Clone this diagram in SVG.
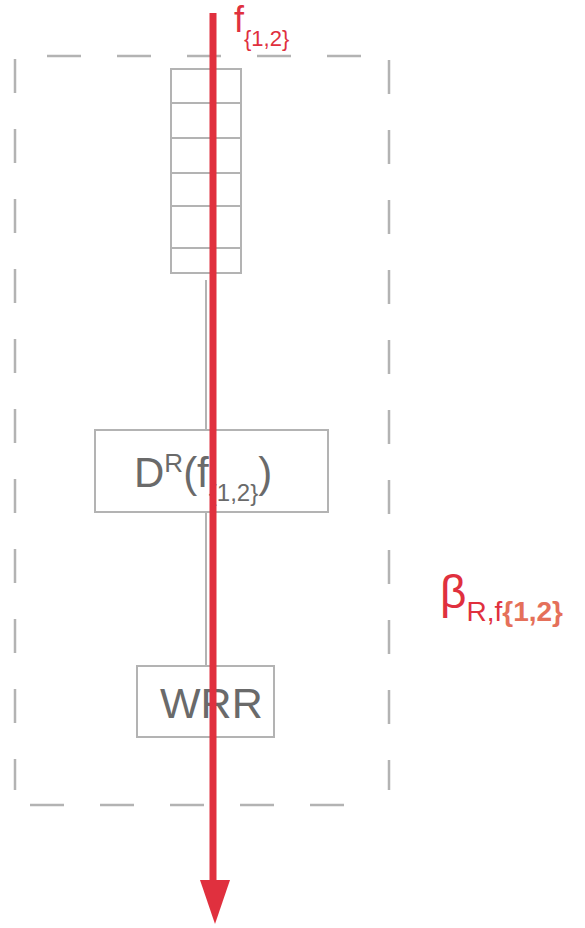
<svg xmlns="http://www.w3.org/2000/svg" width="585" height="928" viewBox="0 0 585 928">
<style>
.g{fill:none;stroke:#b3b3b3;stroke-width:2}
.dash{fill:none;stroke:#b3b3b3;stroke-width:2.5;stroke-dasharray:34 36}
.t{font-family:"Liberation Sans",Arial,sans-serif;fill:#6a6a6a}
.r{font-family:"Liberation Sans",Arial,sans-serif;fill:#e0303e}
</style>
<g id="boundary">
<line class="dash" x1="15" y1="59" x2="15" y2="790"/>
<line class="dash" x1="47" y1="56" x2="389" y2="56"/>
<line class="dash" x1="389" y1="60" x2="389" y2="790"/>
<line class="dash" x1="30" y1="805" x2="373" y2="805"/>
</g>
<g id="connectors">
<line class="g" x1="206" y1="280" x2="206" y2="430"/>
<line class="g" x1="206" y1="512" x2="206" y2="666"/>
</g>
<g id="queue">
<rect class="g" x="171" y="69" width="70" height="204"/>
<line class="g" x1="171" y1="103" x2="241" y2="103"/>
<line class="g" x1="171" y1="138" x2="241" y2="138"/>
<line class="g" x1="171" y1="173" x2="241" y2="173"/>
<line class="g" x1="171" y1="206" x2="241" y2="206"/>
<line class="g" x1="171" y1="248" x2="241" y2="248"/>
</g>
<g id="dr">
<rect class="g" x="95" y="430" width="233" height="82"/>
<text class="t" x="134" y="487" font-size="42">D<tspan font-size="26" dy="-15">R</tspan><tspan dy="15">(f</tspan><tspan font-size="24" dy="14">{1,2}</tspan><tspan dy="-14">)</tspan></text>
</g>
<g id="wrr">
<rect class="g" x="137" y="666" width="137" height="71"/>
<text class="t" x="160" y="718" font-size="43">WRR</text>
</g>
<g id="flow">
<line x1="213" y1="13" x2="213" y2="882" stroke="#e0303e" stroke-width="7"/>
<polygon points="200,880 230,880 215,924" fill="#e0303e"/>
<text class="r" x="234" y="32" font-size="36">f<tspan font-size="22" dy="14">{1,2}</tspan></text>
</g>
<g id="beta">
<text class="r" x="440" y="608" font-size="46">β<tspan font-size="28" dy="13">R,f</tspan><tspan font-size="28" fill="#e5705a" font-weight="bold">{1,2}</tspan></text>
</g>
</svg>
